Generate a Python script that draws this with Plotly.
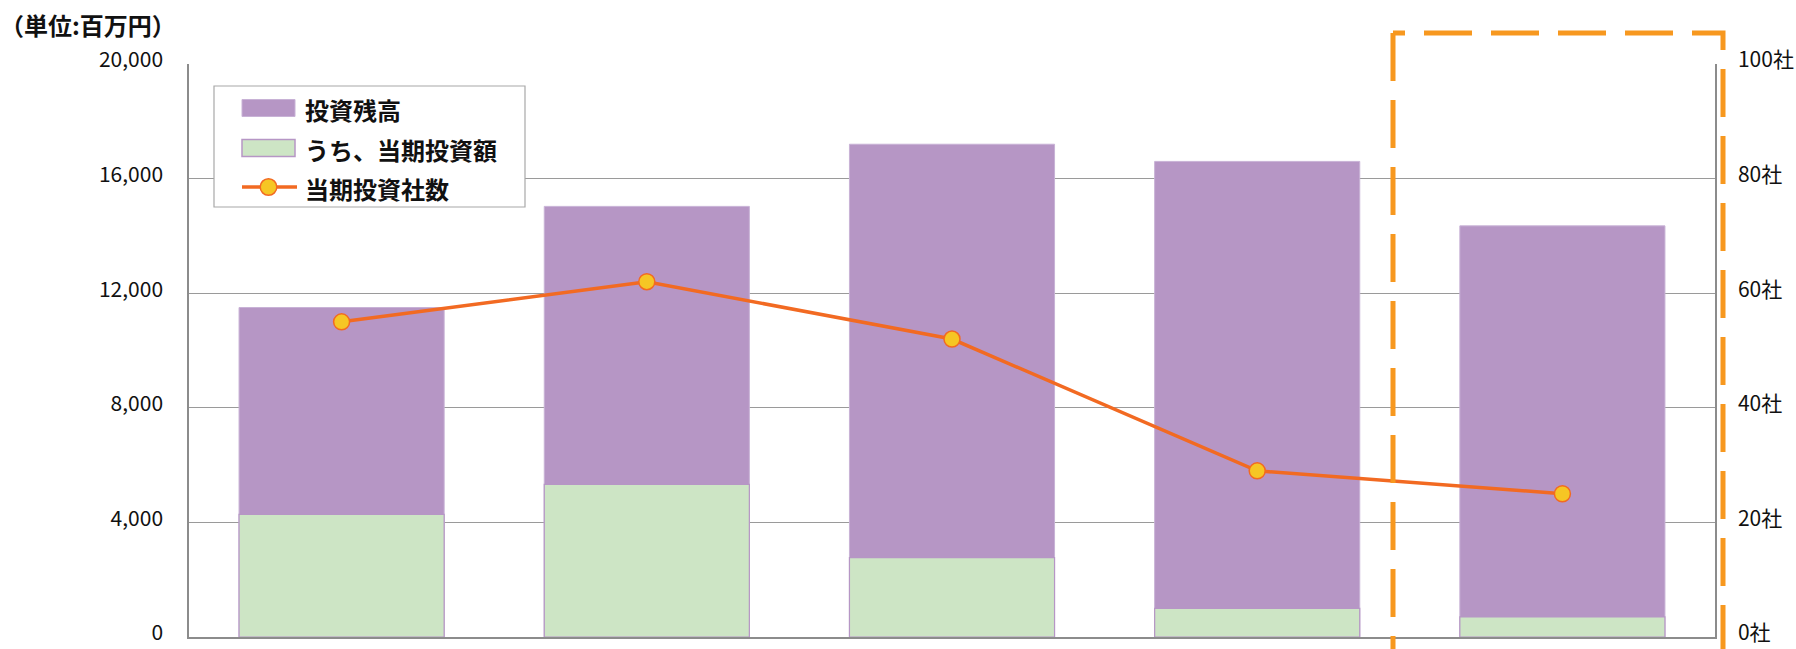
import plotly.graph_objects as go

# ---- data ----
periods = ["1", "2", "3", "4", "5"]
investment_balance = [11500, 15030, 17200, 16600, 14350]   # 投資残高
current_investment = [4280, 5330, 2770, 1000, 700]          # うち、当期投資額
company_count = [55, 62, 52, 29, 25]                        # 当期投資社数
left_ticks = [0, 4000, 8000, 12000, 16000, 20000]
right_ticks = [0, 20, 40, 60, 80, 100]
right_labels = ["0社", "20社", "40社", "60社", "80社", "100社"]

# ---- layout constants (pixels) ----
W, H = 1796, 649
ML, MR, MT, MB = 189, 81, 64, 12
PW, PH = W - ML - MR, H - MT - MB

def px(x):
    return (x - ML) / PW

def py(y):
    return (H - MB - y) / PH

PURPLE = "#B696C5"
GREEN = "#CDE5C5"
ORANGE_LINE = "#F26A22"
MARKER_FILL = "#F6C624"
BOX_ORANGE = "#F7981F"
FONT = "Noto Sans CJK JP"

fig = go.Figure()
fig.add_trace(go.Bar(
    x=periods, y=investment_balance, name="投資残高",
    marker=dict(color=PURPLE, line=dict(color="#C8B2D6", width=1)),
    showlegend=False, hoverinfo="skip",
))
fig.add_trace(go.Bar(
    x=periods, y=current_investment, name="うち、当期投資額",
    marker=dict(color=GREEN, line=dict(color=PURPLE, width=1.2)),
    showlegend=False, hoverinfo="skip",
))
fig.add_trace(go.Scatter(
    x=periods, y=company_count, name="当期投資社数", yaxis="y2",
    mode="lines+markers",
    line=dict(color=ORANGE_LINE, width=3.5),
    marker=dict(size=16, color=MARKER_FILL, line=dict(color=ORANGE_LINE, width=1.5)),
    showlegend=False, hoverinfo="skip",
))

shapes = []
annotations = []

# dashed highlight box (open at the bottom)
bx0, bx1, by0, ybot = 1393, 1723, 33, 700
dash = "48px,19px"
box_line = dict(color=BOX_ORANGE, width=5, dash=dash)
shapes.append(dict(type="path", xref="paper", yref="paper",
                   path=f"M{px(bx0)},{py(by0)} L{px(bx0)},{py(ybot)}", line=box_line, layer="above"))
shapes.append(dict(type="path", xref="paper", yref="paper",
                   path=f"M{px(bx1-50)},{py(by0)} L{px(bx0)},{py(by0)}", line=box_line, layer="above"))
shapes.append(dict(type="path", xref="paper", yref="paper",
                   path=f"M{px(bx1-31)},{py(by0)} L{px(bx1)},{py(by0)} L{px(bx1)},{py(ybot)}",
                   line=box_line, layer="above"))

# manual legend
lx0, lx1, ly0, ly1 = 214, 525, 86, 207
shapes.append(dict(type="rect", xref="paper", yref="paper",
                   x0=px(lx0), x1=px(lx1), y0=py(ly1), y1=py(ly0),
                   fillcolor="white", line=dict(color="#A8A8A8", width=1.2), layer="above"))
rows = [108, 148, 187]
sw0, sw1 = 242, 295
shapes.append(dict(type="rect", xref="paper", yref="paper",
                   x0=px(sw0), x1=px(sw1), y0=py(rows[0] + 8.5), y1=py(rows[0] - 8.5),
                   fillcolor=PURPLE, line=dict(color="#C8B2D6", width=1), layer="above"))
shapes.append(dict(type="rect", xref="paper", yref="paper",
                   x0=px(sw0), x1=px(sw1), y0=py(rows[1] + 8.5), y1=py(rows[1] - 8.5),
                   fillcolor=GREEN, line=dict(color=PURPLE, width=1.5), layer="above"))
shapes.append(dict(type="line", xref="paper", yref="paper",
                   x0=px(sw0), x1=px(sw1 + 2), y0=py(rows[2]), y1=py(rows[2]),
                   line=dict(color=ORANGE_LINE, width=3.5), layer="above"))
cx, r = 268.5, 8.3
shapes.append(dict(type="circle", xref="paper", yref="paper",
                   x0=px(cx - r), x1=px(cx + r), y0=py(rows[2] + r), y1=py(rows[2] - r),
                   fillcolor=MARKER_FILL, line=dict(color=ORANGE_LINE, width=1.5), layer="above"))
for label, yy in zip(["投資残高", "うち、当期投資額", "当期投資社数"], rows):
    annotations.append(dict(text=label, xref="paper", yref="paper",
                            x=px(303), y=py(yy + 1), xanchor="left", yanchor="middle",
                            showarrow=False,
                            font=dict(family=FONT, size=24, color="#111111", weight="bold")))

# unit label
annotations.append(dict(text="（単位:百万円）", xref="paper", yref="paper",
                        x=px(-2), y=py(24), xanchor="left", yanchor="middle", showarrow=False,
                        font=dict(family=FONT, size=24, color="#111111", weight="bold")))

fig.update_layout(
    width=W, height=H,
    margin=dict(l=ML, r=MR, t=MT, b=MB, autoexpand=False),
    paper_bgcolor="white", plot_bgcolor="white",
    barmode="overlay", bargap=0.328,
    showlegend=False,
    font=dict(family=FONT, size=22, color="#111111"),
    xaxis=dict(type="category", range=[-0.5, 4.5], showticklabels=False, ticks="",
               showgrid=False, showline=True, linecolor="#8C8C8C", linewidth=1.5,
               zeroline=False, automargin=False),
    yaxis=dict(range=[0, 20000], tickvals=left_ticks, tickformat=",d",
               showgrid=True, gridcolor="#9A9A9A", gridwidth=1,
               showline=True, linecolor="#8C8C8C", linewidth=1.5,
               zeroline=False, ticks="", ticklabelstandoff=20, ticklabeloverflow="allow",
               ticklabelshift=-4, automargin=False,
               tickfont=dict(family=FONT, size=21, color="#111111")),
    yaxis2=dict(range=[0, 100], overlaying="y", side="right",
                tickvals=right_ticks, ticktext=right_labels,
                showgrid=False, showline=True, linecolor="#8C8C8C", linewidth=1.5,
                zeroline=False, ticks="", ticklabelstandoff=17, ticklabeloverflow="allow",
                ticklabelshift=-4, automargin=False,
                tickfont=dict(family=FONT, size=21, color="#111111")),
    shapes=shapes, annotations=annotations,
)

fig.write_html(
    "out.html",
    config={"displayModeBar": False},
    post_script="document.body.style.margin='0';document.body.style.padding='0';"
                "document.documentElement.style.overflow='hidden';",
)
